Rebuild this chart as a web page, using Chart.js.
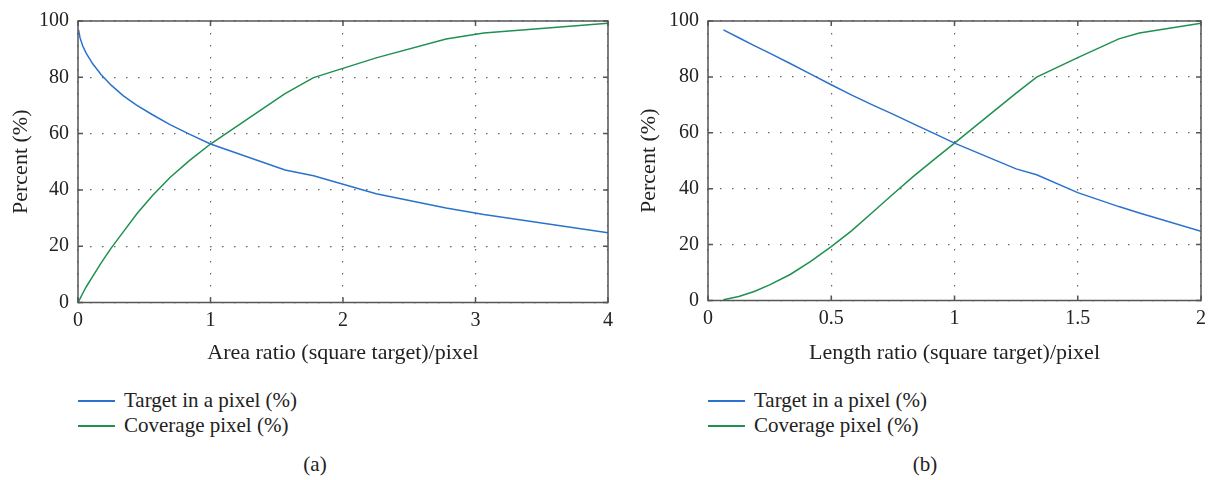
<!DOCTYPE html>
<html>
<head>
<meta charset="utf-8">
<script src="https://cdn.jsdelivr.net/npm/chart.js@4/dist/chart.umd.min.js"></script>
<style>
    body { margin: 0; width: 1218px; height: 480px; background: #fff; position: relative; overflow: hidden;
           font-family: "Liberation Serif", "DejaVu Serif", serif; color: #222; }
    .panel { position: absolute; top: 0; }
    .legend { position: absolute; top: 388px; font-size: 21px; }
    .legend .row { height: 25px; display: flex; align-items: center; }
    .legend .swatch { display: inline-block; width: 37px; height: 2px; margin-right: 9px; }
    .caption { position: absolute; top: 452px; font-size: 21px; transform: translateX(-50%); }
</style>
</head>
<body>
<div class="panel" style="left:0px"><canvas id="chartA" width="625" height="370"></canvas></div>
<div class="panel" style="left:625px"><canvas id="chartB" width="593" height="370"></canvas></div>
<div class="legend" id="legendA" style="left:78px"></div>
<div class="legend" id="legendB" style="left:708px"></div>
<div class="caption" style="left:315px">(a)</div>
<div class="caption" style="left:925px">(b)</div>

<script>
// (a) plots against area ratio, (b) against length ratio
const lengthRatio = [0.0625, 0.125, 0.1875, 0.25, 0.3333, 0.4167, 0.5, 0.5833, 0.6667, 0.75, 0.8333, 0.9167, 1, 1.25, 1.3333, 1.5, 1.6667, 1.75, 2];
const areaRatio = [0.0039, 0.0156, 0.0352, 0.0625, 0.1111, 0.1736, 0.25, 0.3403, 0.4444, 0.5625, 0.6944, 0.8403, 1, 1.5625, 1.7778, 2.25, 2.7778, 3.0625, 4];
const targetInPixel = [96.8, 94, 91.2, 88.5, 84.8, 81, 77.2, 73.5, 70, 66.7, 63.2, 59.8, 56.3, 47.1, 45, 38.6, 33.6, 31.3, 24.8];
const coveragePixel = [0.3, 1.4, 3.2, 5.6, 9.3, 14, 19.3, 25, 31.5, 38, 44.4, 50.4, 56.3, 74.2, 79.9, 86.9, 93.6, 95.7, 99.2];

const seriesLabels = ["Target in a pixel (%)", "Coverage pixel (%)"];
const seriesColors = ["#2b72cc", "#1e9150"];

const FONT = "'Liberation Serif', 'DejaVu Serif', serif";

// box round the plot plus short inward ticks on all four sides
const frameTicks = {
    id: "frameTicks",
    afterDraw(chart) {
        const { ctx, chartArea: a, scales } = chart;
        const len = 5;
        ctx.save();
        ctx.strokeStyle = "#555";
        ctx.lineWidth = 1.5;
        ctx.strokeRect(a.left, a.top, a.right - a.left, a.bottom - a.top);
        ctx.beginPath();
        scales.x.ticks.forEach(t => {
            const px = scales.x.getPixelForValue(t.value);
            ctx.moveTo(px, a.bottom); ctx.lineTo(px, a.bottom - len);
            ctx.moveTo(px, a.top); ctx.lineTo(px, a.top + len);
        });
        scales.y.ticks.forEach(t => {
            const py = scales.y.getPixelForValue(t.value);
            ctx.moveTo(a.left, py); ctx.lineTo(a.left + len, py);
            ctx.moveTo(a.right, py); ctx.lineTo(a.right - len, py);
        });
        ctx.stroke();
        ctx.restore();
    }
};

function makeChart(id, xs, xMax, xStep, xTitle, topPad, xHeight, yWidth, yTitlePad) {
    const datasets = [targetInPixel, coveragePixel].map((vals, i) => ({
        label: seriesLabels[i],
        data: xs.map((x, k) => ({ x: x, y: vals[k] })),
        borderColor: seriesColors[i],
        borderWidth: 1.5,
        pointRadius: 0,
        tension: 0,
        fill: false
    }));

    return new Chart(document.getElementById(id).getContext("2d"), {
        type: "line",
        data: { datasets: datasets },
        plugins: [frameTicks],
        options: {
            responsive: false,
            animation: false,
            devicePixelRatio: 1,
            layout: { padding: { left: 0, top: topPad, right: 17, bottom: 0 } },
            plugins: { legend: { display: false }, tooltip: { enabled: false } },
            scales: {
                x: {
                    type: "linear",
                    min: 0,
                    max: xMax,
                    ticks: {
                        stepSize: xStep, padding: 6, color: "#222", font: { family: FONT, size: 20 },
                        callback: v => String(v)
                    },
                    grid: { color: "#666", lineWidth: 1.2, drawTicks: false },
                    border: { display: false, dash: [1.5, 10.5] },
                    title: { display: true, text: xTitle, color: "#222", font: { family: FONT, size: 22 }, padding: { top: 0, bottom: 4 } },
                    afterFit(scale) { scale.height = xHeight; }
                },
                y: {
                    min: 0,
                    max: 100,
                    ticks: { stepSize: 20, padding: 9, color: "#222", font: { family: FONT, size: 20 } },
                    grid: { color: "#666", lineWidth: 1.2, drawTicks: false },
                    border: { display: false, dash: [1.5, 10.5] },
                    title: { display: true, text: "Percent (%)", color: "#222", font: { family: FONT, size: 22 }, padding: { top: yTitlePad, bottom: 0 } },
                    afterFit(scale) { scale.width = yWidth; }
                }
            }
        }
    });
}

function buildLegend(elId) {
    const box = document.getElementById(elId);
    seriesLabels.forEach((label, i) => {
        const row = document.createElement("div");
        row.className = "row";
        const sw = document.createElement("span");
        sw.className = "swatch";
        sw.style.backgroundColor = seriesColors[i];
        const txt = document.createElement("span");
        txt.textContent = label;
        row.appendChild(sw);
        row.appendChild(txt);
        box.appendChild(row);
    });
}

makeChart("chartA", areaRatio, 4, 1, "Area ratio (square target)/pixel", 18, 67.5, 78, 8);
makeChart("chartB", lengthRatio, 2, 0.5, "Length ratio (square target)/pixel", 14.5, 69.5, 83, 11);

buildLegend("legendA");
buildLegend("legendB");
</script>
</body>
</html>
